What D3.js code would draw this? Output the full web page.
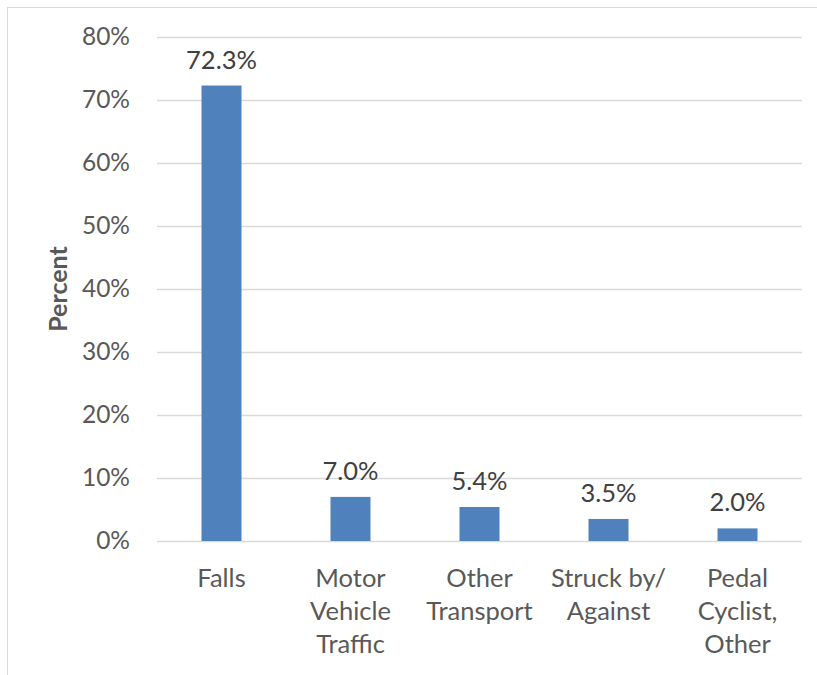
<!DOCTYPE html>
<html><head><meta charset="utf-8">
<script src="https://cdn.jsdelivr.net/npm/d3@7"></script>
<style>body{margin:0;background:#fff;}svg{display:block;}text{font-family:Lato,"Open Sans",sans-serif;}</style>
</head><body>
<svg id="c" width="817" height="675"></svg>
<script>
const categories = [["Falls"],["Motor","Vehicle","Traffic"],["Other","Transport"],["Struck by/","Against"],["Pedal","Cyclist,","Other"]];
const values = [72.3, 7.0, 5.4, 3.5, 2.0];
const yTicks = [0,10,20,30,40,50,60,70,80];

const svg = d3.select("#c");
// outer chart border
svg.append("rect").attr("x",7.5).attr("y",7.5).attr("width",820).attr("height",700)
  .attr("fill","none").attr("stroke","#d9d9d9").attr("stroke-width",1);

const m = {left:157, right:802, top:37, bottom:541};
const x = d3.scaleBand().domain(d3.range(categories.length)).range([m.left,m.right]).paddingInner(0.69).paddingOuter(0.345);
const y = d3.scaleLinear().domain([0,80]).range([m.bottom,m.top]);

// gridlines
svg.append("g").selectAll("line").data(yTicks).join("line")
  .attr("x1",m.left).attr("x2",m.right).attr("y1",d=>Math.round(y(d))+0.5).attr("y2",d=>Math.round(y(d))+0.5)
  .attr("stroke","#d9d9d9").attr("stroke-width",1.5);

// y axis
const ya = svg.append("g").attr("transform",`translate(${m.left},0)`)
  .call(d3.axisLeft(y).tickValues(yTicks).tickFormat(d=>d+"%").tickSize(0).tickPadding(27));
ya.select(".domain").remove();
ya.selectAll("text").attr("font-size",24.5).attr("fill","#595959").attr("font-family","Lato");

// bars
svg.append("g").selectAll("rect").data(values).join("rect")
  .attr("x",(d,i)=>x(i)).attr("width",x.bandwidth())
  .attr("y",d=>y(d)).attr("height",d=>y(0)-y(d)).attr("fill","#4f81bd");

// data labels
svg.append("g").selectAll("text").data(values).join("text")
  .attr("x",(d,i)=>x(i)+x.bandwidth()/2).attr("y",d=>y(d)-17)
  .attr("text-anchor","middle").attr("font-size",25.5).attr("fill","#404040")
  .text(d=>d.toFixed(1)+"%");

// category labels
const cl = svg.append("g").selectAll("text").data(categories).join("text")
  .attr("text-anchor","middle").attr("font-size",25.5).attr("fill","#595959")
  .attr("transform",(d,i)=>`translate(${x(i)+x.bandwidth()/2},587)`);
cl.selectAll("tspan").data(d=>d).join("tspan")
  .attr("x",0).attr("y",(d,j)=>j*33).text(d=>d);

// y axis title
svg.append("text").attr("transform","translate(67,289) rotate(-90)")
  .attr("text-anchor","middle").attr("font-size",25).attr("font-weight","bold")
  .attr("fill","#595959").text("Percent");
</script>
</body></html>
